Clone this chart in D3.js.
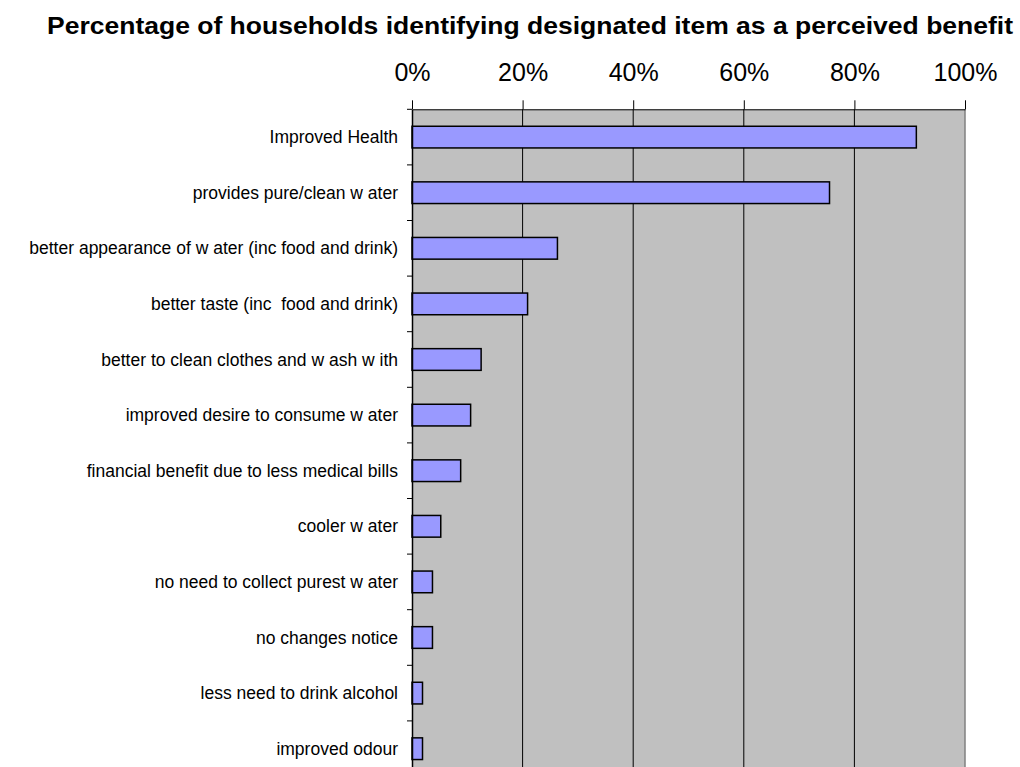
<!DOCTYPE html>
<html>
<head>
<meta charset="utf-8">
<script src="https://cdn.jsdelivr.net/npm/d3@7"></script>
<style>
    body { margin: 0; background: #fff; overflow: hidden; }
    svg { display: block; }
    text { font-family: "Liberation Sans", Arial, sans-serif; fill: #000; }
</style>
</head>
<body>
<svg id="chart" width="1020" height="767"></svg>
<script>
// benefit categories, top to bottom
const CATEGORIES = [
    'Improved Health',
    'provides pure/clean w ater',
    'better appearance of w ater (inc food and drink)',
    'better taste (inc  food and drink)',
    'better to clean clothes and w ash w ith',
    'improved desire to consume w ater',
    'financial benefit due to less medical bills',
    'cooler w ater',
    'no need to collect purest w ater',
    'no changes notice',
    'less need to drink alcohol',
    'improved odour'
];

// share of households (fraction)
const VALUES = [0.912, 0.755, 0.263, 0.209, 0.125, 0.106, 0.088, 0.052, 0.037, 0.037, 0.019, 0.019];

const TICKS = [0, 0.2, 0.4, 0.6, 0.8, 1];

const TITLE = 'Percentage of households identifying designated item as a perceived benefit';

// plot box
const LEFT = 412, RIGHT = 965;
const TOP = 109.3, BOTTOM = 776.5;

const svg = d3.select('#chart');

const x = d3.scaleLinear().domain([0, 1]).range([LEFT, RIGHT]);
const y = d3.scaleBand()
    .domain(CATEGORIES)
    .range([TOP, BOTTOM])
    .paddingInner(0.61)
    .paddingOuter(0.305);

// grey plot area
svg.append('rect')
    .attr('x', LEFT).attr('y', TOP)
    .attr('width', RIGHT - LEFT).attr('height', BOTTOM - TOP)
    .style('fill', '#c0c0c0');

// vertical gridlines
svg.append('g')
    .selectAll('line')
    .data(TICKS.slice(1, -1))
    .join('line')
    .attr('x1', d => x(d)).attr('x2', d => x(d))
    .attr('y1', TOP).attr('y2', BOTTOM)
    .style('stroke', '#000').style('stroke-width', 1);

// right border
svg.append('line')
    .attr('x1', RIGHT).attr('x2', RIGHT)
    .attr('y1', TOP).attr('y2', BOTTOM)
    .style('stroke', '#808080').style('stroke-width', 1.5);

// top axis
const xAxis = d3.axisTop(x)
    .tickValues(TICKS)
    .tickFormat(d3.format('.0%'))
    .tickSize(9)
    .tickSizeOuter(0)
    .tickPadding(19);

const xg = svg.append('g')
    .attr('transform', `translate(0, ${TOP})`)
    .call(xAxis);
xg.select('.domain').style('stroke', '#000');
xg.selectAll('.tick line').style('stroke', '#000');
xg.selectAll('.tick text')
    .style('font-size', '25px')
    .style('font-family', '"Liberation Sans", Arial, sans-serif')
    .style('fill', '#000');

// bars
svg.append('g')
    .selectAll('rect')
    .data(VALUES)
    .join('rect')
    .attr('x', x(0))
    .attr('y', (d, i) => y(CATEGORIES[i]))
    .attr('width', d => x(d) - x(0))
    .attr('height', y.bandwidth())
    .style('fill', '#9999ff')
    .style('stroke', '#000')
    .style('stroke-width', 1.5);

// left axis line with ticks between categories
const yAxis = d3.axisLeft(y).tickSize(0).tickFormat('');
const yg = svg.append('g')
    .attr('transform', `translate(${LEFT}, 0)`)
    .call(yAxis);
yg.select('.domain').style('stroke', '#000').style('stroke-width', 1.5);

const step = y.step();
svg.append('g')
    .selectAll('line')
    .data(CATEGORIES)
    .join('line')
    .attr('x1', LEFT - 5).attr('x2', LEFT)
    .attr('y1', (d, i) => TOP + step * i)
    .attr('y2', (d, i) => TOP + step * i)
    .style('stroke', '#000');

// category labels
svg.append('g')
    .selectAll('text')
    .data(CATEGORIES)
    .join('text')
    .attr('x', LEFT - 14)
    .attr('y', d => y(d) + y.bandwidth() / 2)
    .attr('dy', '0.35em')
    .attr('text-anchor', 'end')
    .style('font-size', '17.5px')
    .style('white-space', 'pre')
    .text(d => d);

// title
svg.append('text')
    .attr('x', 47)
    .attr('y', 34)
    .attr('textLength', 966)
    .attr('lengthAdjust', 'spacingAndGlyphs')
    .style('font-size', '24px')
    .style('font-weight', 'bold')
    .text(TITLE);
</script>
</body>
</html>
